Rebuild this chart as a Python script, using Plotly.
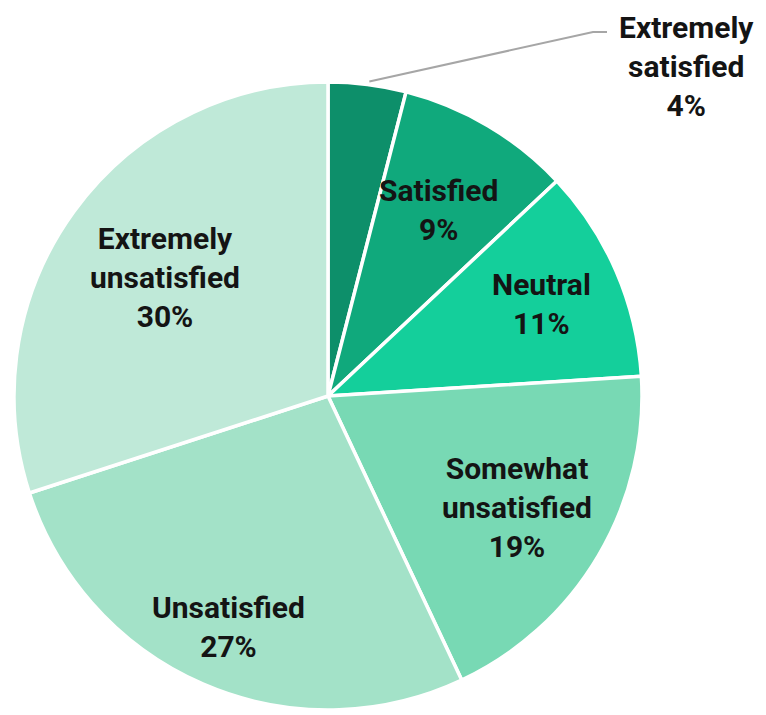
import math
import plotly.graph_objects as go

# satisfaction survey breakdown (%)
labels = ['Extremely<br>satisfied', 'Satisfied', 'Neutral', 'Somewhat<br>unsatisfied',
          'Unsatisfied', 'Extremely<br>unsatisfied']
values = [4, 9, 11, 19, 27, 30]
colors = ['#0d8f6a', '#10a97c', '#14cf9b', '#78d9b4', '#a3e2c8', '#bfe9d8']

W, H = 766, 715
R = 314          # pie radius in px
CX, CY = 320, 388  # pie centre in px (figure coords, from top-left)
dom_x = [(CX - R) / W, (CX + R) / W]
dom_y = [1 - (CY + R) / H, 1 - (CY - R) / H]

# how far out (fraction of radius) each inside label sits
label_r = [None, 0.69, 0.74, 0.70, 0.80, 0.64]
font = dict(family='Roboto', size=30, color='#141414', weight='bold')

fig = go.Figure(go.Pie(
    labels=labels, values=values, textinfo='none',
    sort=False, direction='clockwise', rotation=0,
    marker=dict(colors=colors, line=dict(color='white', width=3.5)),
    domain=dict(x=dom_x, y=dom_y),
    hoverinfo='label+percent', showlegend=False,
))


def to_paper(x, y):
    return x / W, 1 - y / H


total = sum(values)
cum = 0
for i, (lab, v) in enumerate(zip(labels, values)):
    mid = math.radians((cum + v / 2) / total * 360)
    cum += v
    if label_r[i] is None:
        continue
    rr = R * label_r[i]
    x, y = to_paper(CX + rr * math.sin(mid), CY - rr * math.cos(mid))
    fig.add_annotation(x=x, y=y, xref='paper', yref='paper', showarrow=False,
                       xanchor='center', yanchor='middle',
                       text=f'{lab}<br>{v}%', font=font, align='center')

# first (small) slice: label outside with a leader line from the arc midpoint
ang = math.radians(values[0] / total * 360 / 2)
tip = (CX + R * math.sin(ang) + 2, CY - R * math.cos(ang) - 3)
p0 = to_paper(*tip)
p1 = to_paper(585, 24)
p2 = to_paper(599, 24)
fig.add_shape(type='path', xref='paper', yref='paper',
              path=f'M {p0[0]} {p0[1]} L {p1[0]} {p1[1]} L {p2[0]} {p2[1]}',
              line=dict(color='#a6a6a6', width=2))

lx, ly = to_paper(678, 59)
fig.add_annotation(x=lx, y=ly, xref='paper', yref='paper', showarrow=False,
                   xanchor='center', yanchor='middle', borderpad=0,
                   text=f'{labels[0]}<br>{values[0]}%', font=font, align='center')

fig.update_layout(
    width=W, height=H,
    margin=dict(l=0, r=0, t=0, b=0),
    paper_bgcolor='white',
)

fig.write_html('out.html')
